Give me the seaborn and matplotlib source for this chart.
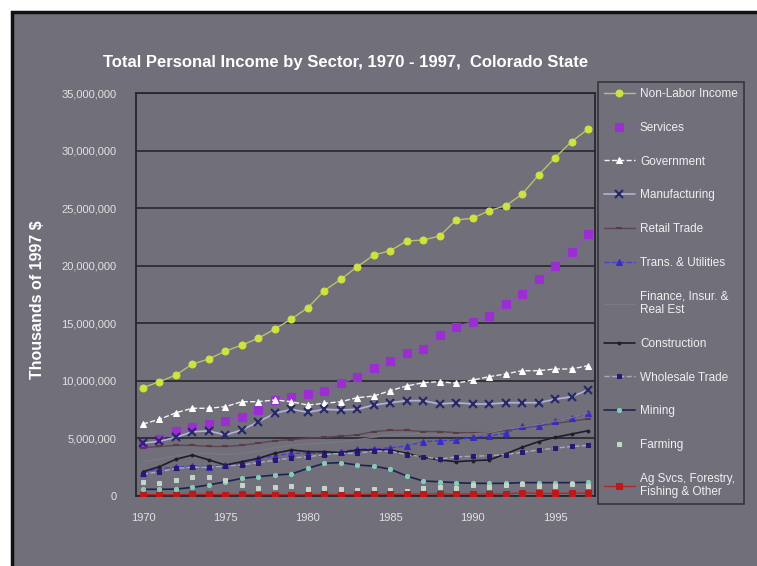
import matplotlib
matplotlib.use("Agg")
import matplotlib.pyplot as plt
import matplotlib.ticker as mticker
from matplotlib.patches import Rectangle
import numpy as np
import pandas as pd
import seaborn as sns

years = list(range(1970, 1998))

non_labor = [9.41, 9.93, 10.51, 11.46, 11.90, 12.59, 13.11, 13.70, 14.50, 15.37, 16.35, 17.83, 18.82, 19.91,
             20.93, 21.30, 22.15, 22.23, 22.58, 23.97, 24.12, 24.78, 25.21, 26.20, 27.88, 29.38, 30.77, 31.87]
services = [4.49, 4.92, 5.65, 5.97, 6.25, 6.54, 6.89, 7.47, 8.34, 8.62, 8.86, 9.15, 9.79, 10.31,
            11.14, 11.75, 12.39, 12.74, 13.98, 14.65, 15.14, 15.63, 16.67, 17.54, 18.82, 20.00, 21.16, 22.75]
government = [6.25, 6.66, 7.23, 7.62, 7.62, 7.76, 8.19, 8.19, 8.34, 8.19, 7.90, 8.05, 8.19, 8.54,
              8.68, 9.15, 9.55, 9.84, 9.93, 9.79, 10.07, 10.36, 10.60, 10.88, 10.88, 11.03, 11.03, 11.32]
manufacturing = [4.60, 4.75, 5.10, 5.58, 5.65, 5.30, 5.73, 6.45, 7.18, 7.53, 7.27, 7.53, 7.47, 7.53,
                 7.90, 8.10, 8.28, 8.28, 7.99, 8.10, 7.99, 7.99, 8.10, 8.10, 8.10, 8.40, 8.62, 9.21]
retail = [4.2, 4.3, 4.4, 4.4, 4.3, 4.3, 4.4, 4.6, 4.8, 4.9, 5.0, 5.1, 5.2, 5.3,
          5.6, 5.7, 5.7, 5.6, 5.6, 5.5, 5.5, 5.5, 5.7, 5.9, 6.1, 6.3, 6.5, 6.7]
trans = [2.02, 2.40, 2.49, 2.61, 2.55, 2.69, 2.84, 3.27, 3.47, 3.71, 3.71, 3.71, 3.85, 4.08,
         4.08, 4.19, 4.34, 4.72, 4.80, 4.86, 5.10, 5.21, 5.44, 6.08, 6.08, 6.54, 6.75, 7.18]
finance = [3.0, 3.2, 3.5, 3.7, 3.7, 3.6, 3.7, 3.9, 4.2, 4.4, 4.5, 4.6, 4.7, 4.9,
           5.1, 5.3, 5.4, 5.4, 5.3, 5.3, 5.4, 5.5, 5.8, 6.0, 6.2, 6.5, 6.8, 7.2]
construction = [2.11, 2.55, 3.19, 3.56, 3.13, 2.69, 2.98, 3.27, 3.71, 4.00, 3.85, 3.85, 3.76, 4.00,
                4.00, 4.00, 3.71, 3.36, 3.13, 2.98, 3.07, 3.13, 3.65, 4.23, 4.72, 5.10, 5.38, 5.67]
wholesale = [1.9, 2.1, 2.4, 2.5, 2.5, 2.6, 2.7, 2.9, 3.1, 3.3, 3.4, 3.6, 3.7, 3.7,
             3.9, 3.9, 3.6, 3.4, 3.2, 3.4, 3.45, 3.5, 3.6, 3.8, 4.0, 4.15, 4.3, 4.4]
mining = [0.58, 0.58, 0.60, 0.75, 0.96, 1.24, 1.53, 1.68, 1.82, 1.91, 2.40, 2.84, 2.90, 2.69,
          2.60, 2.32, 1.74, 1.30, 1.24, 1.16, 1.10, 1.10, 1.10, 1.16, 1.16, 1.16, 1.16, 1.19]
farming = [1.24, 1.16, 1.39, 1.62, 1.68, 1.39, 0.96, 0.67, 0.80, 0.90, 0.60, 0.70, 0.60, 0.50,
           0.58, 0.52, 0.46, 0.67, 0.75, 0.67, 0.96, 0.75, 0.96, 1.01, 0.90, 0.85, 1.00, 0.90]
ag_svcs = [0.12, 0.12, 0.12, 0.14, 0.14, 0.12, 0.14, 0.12, 0.12, 0.12, 0.12, 0.14, 0.12, 0.14,
           0.15, 0.15, 0.15, 0.18, 0.18, 0.15, 0.18, 0.18, 0.18, 0.28, 0.22, 0.22, 0.25, 0.25]

labels = ["Non-Labor Income", "Services", "Government", "Manufacturing", "Retail Trade",
          "Trans. & Utilities", "Finance, Insur. &\nReal Est", "Construction", "Wholesale Trade",
          "Mining", "Farming", "Ag Svcs, Forestry,\nFishing & Other"]
series = [non_labor, services, government, manufacturing, retail, trans, finance,
          construction, wholesale, mining, farming, ag_svcs]

BG = "#706f7a"
styles = [
    dict(color="#b6c46c", lw=1.0, ls="-", marker="o", ms=5, mfc="#cfe23e", mec="#cfe23e"),
    dict(color="#9a4cc8", lw=1.0, ls="-", marker="s", ms=5.5, mfc="#9a2ed0", mec="#9a2ed0"),
    dict(color="#f2f2f2", lw=1.0, ls="--", marker="^", ms=5, mfc="#ffffff", mec="#ffffff"),
    dict(color="#b4b0d6", lw=1.2, ls="-", marker="x", ms=6, mew=1.5, mfc="#262868", mec="#262868"),
    dict(color="#5c4650", lw=1.0, ls="-", marker="_", ms=4, mew=1.5, mfc="#5c3a44", mec="#5c3a44"),
    dict(color="#4a3cd4", lw=1.0, ls="--", marker="^", ms=5, mfc="#3a2cc0", mec="#3a2cc0"),
    dict(color="#7a7984", lw=0.8, ls="-", marker="", ms=0),
    dict(color="#1e1e2a", lw=1.2, ls="-", marker="o", ms=2, mfc="#1e1e2a", mec="#1e1e2a"),
    dict(color="#a8a8c4", lw=1.0, ls="--", marker="s", ms=3.5, mfc="#2a1870", mec="#2a1870"),
    dict(color="#1c2450", lw=1.2, ls="-", marker="o", ms=3, mfc="#86cbb8", mec="#86cbb8"),
    dict(color="#c8d8cc", lw=0, ls="none", marker="s", ms=3.5, mfc="#c4d4c8", mec="#c4d4c8"),
    dict(color="#b02828", lw=1.0, ls="-", marker="s", ms=5, mfc="#c01818", mec="#c01818"),
]

sns.set_theme(style="white")
plt.rcParams["font.family"] = ["Liberation Sans", "DejaVu Sans"]

fig = plt.figure(figsize=(7.57, 5.66), dpi=100)
fig.patch.set_facecolor("white")
fig.add_artist(Rectangle((12 / 757, -0.05), 1.1, 1 - 12 / 566 + 0.05, transform=fig.transFigure,
                         facecolor=BG, edgecolor="#111111", lw=2.5, zorder=-10))

ax = fig.add_axes([136 / 757, 1 - 496 / 566, (595 - 136) / 757, (496 - 93) / 566])
ax.set_facecolor(BG)

handles = []
for lab, vals, st in zip(labels, series, styles):
    df = pd.DataFrame({"year": years, "value": np.array(vals) * 1e6})
    st = dict(st)
    sns.lineplot(data=df, x="year", y="value", ax=ax, color=st.pop("color"),
                 linewidth=st.pop("lw"), linestyle=st.pop("ls"), label=lab, legend=False,
                 zorder=3, **st)
    handles.append(ax.get_lines()[-1])

ax.set_xlim(1969.575, 1997.425)
ax.set_ylim(0, 35e6)
ax.set_yticks(np.arange(0, 35e6 + 1, 5e6))
ax.yaxis.set_major_formatter(mticker.FuncFormatter(lambda v, p: f"{int(v):,}"))
ax.set_xticks(years)
ax.set_xticklabels([str(y) if (y - 1970) % 5 == 0 else "" for y in years])
ax.grid(axis="y", color="#26262e", lw=1.2)
ax.grid(axis="x", visible=False)
for s in ax.spines.values():
    s.set_color("#26262e")
    s.set_linewidth(1.3)
ax.tick_params(axis="x", direction="out", length=4, width=1, color="#26262e",
               labelsize=8, labelcolor="#e2e2e2", pad=8)
ax.tick_params(axis="y", direction="out", length=3, width=1, color="#26262e",
               labelsize=8, labelcolor="#e2e2e2", pad=11)
ax.set_xlabel("")
ax.set_ylabel("Thousands of 1997 $", color="white", fontsize=11.5, fontweight="bold")
ax.yaxis.set_label_coords((45 - 136) / (595 - 136), (496 - 300) / (496 - 93))

fig.text(346 / 757, 1 - 62 / 566, "Total Personal Income by Sector, 1970 - 1997,  Colorado State",
         ha="center", va="center", color="white", fontsize=12, fontweight="bold")

leg = fig.legend(handles=handles, labels=labels, loc="upper left",
                 bbox_to_anchor=(598 / 757, 1 - 82 / 566), bbox_transform=fig.transFigure,
                 frameon=True, fontsize=8.5, labelspacing=1.85, handlelength=2.6,
                 handletextpad=0.45, borderpad=0.5, borderaxespad=0, fancybox=False)
leg.get_frame().set_facecolor(BG)
leg.get_frame().set_edgecolor("#26262e")
leg.get_frame().set_linewidth(1.2)
for t in leg.get_texts():
    t.set_color("#f0f0f0")
    t.set_linespacing(1.1)

fig.savefig("out.png", dpi=100, facecolor=fig.get_facecolor())
